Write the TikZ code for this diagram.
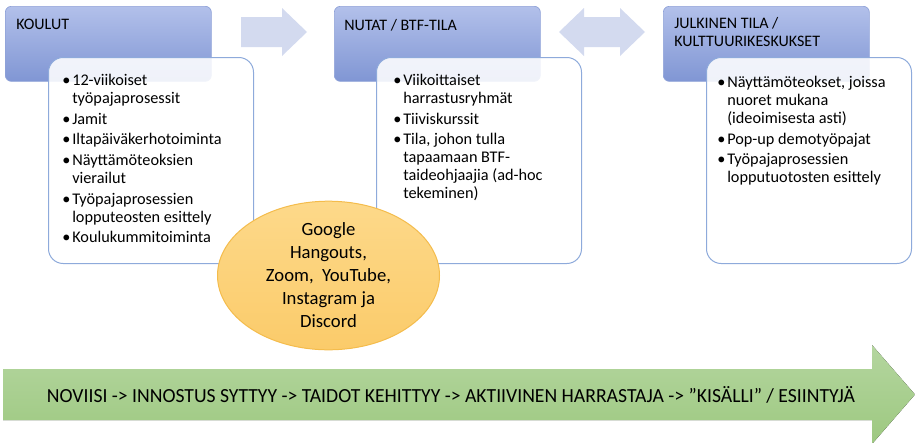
\documentclass[tikz,border=0pt]{standalone}
\usepackage{fontspec}
\usepackage{graphicx}
\setmainfont{Carlito}
\usetikzlibrary{positioning,shapes.geometric}
\definecolor{headtop}{HTML}{B2C0EA}
\definecolor{headbot}{HTML}{8096D4}
\definecolor{headline}{HTML}{8FA2D8}
\definecolor{boxline}{HTML}{8EAADB}
\definecolor{arrowfill}{HTML}{D3DAEF}
\definecolor{ovaltop}{HTML}{FDD98A}
\definecolor{ovalbot}{HTML}{FBCB6A}
\definecolor{ovalline}{HTML}{F4BC4C}
\definecolor{greentop}{HTML}{B4D69F}
\definecolor{greenbot}{HTML}{9DC880}
\newcommand{\bul}{\makebox[7.5pt][l]{\textbullet}}
\newcommand{\ind}{\hspace*{7.5pt}}

\begin{document}
\begin{tikzpicture}[x=0.75pt,y=-0.75pt,
  head/.style={rectangle,rounded corners=4.5pt,draw=headline,line width=0.5pt,
    top color=headtop,bottom color=headbot,minimum width=154.5pt,
    minimum height=56.25pt,anchor=north west,inner sep=0pt},
  itembox/.style={rectangle,rounded corners=11pt,draw=boxline,line width=0.75pt,
    fill=white,fill opacity=0.88,minimum width=153.75pt,minimum height=154.5pt,
    anchor=north west,inner sep=0pt},
  headtext/.style={anchor=north west,inner sep=0pt,align=left,
    font=\fontsize{12}{13.5}\selectfont},
  items/.style={anchor=north west,inner sep=0pt,align=left,
    font=\fontsize{12.2}{13.5}\selectfont},
  blockarrow/.style={fill=arrowfill}]

\useasboundingbox (0,0) rectangle (915,443);

% place boxes
\foreach \n/\hx/\bx in {1/5/48, 2/334/376, 3/663/706}{
  \node[head]    (h\n) at (\hx,6)  {};
  \node[itembox] (b\n) at (\bx,57) {};
}

\node[headtext] (t1) at (16,19) {KOULUT};
\node[headtext] (t2) at (344,19) {NUTAT / BTF-TILA};
\node[headtext] (t3) at (674,17) {JULKINEN TILA /\\KULTTUURIKESKUKSET};

\node[items] (i1) at (62,74) {%
  \bul 12-viikoiset\\ \ind työpajaprosessit\\[2pt]
  \bul Jamit\\[2pt]
  \bul Iltapäiväkerhotoiminta\\[2pt]
  \bul Näyttämöteoksien\\ \ind vierailut\\[2pt]
  \bul Työpajaprosessien\\ \ind lopputeosten esittely\\[2pt]
  \bul Koulukummitoiminta};

\node[items] (i2) at (393,74) {%
  \bul Viikoittaiset\\ \ind harrastusryhmät\\[2pt]
  \bul Tiiviskurssit\\[2pt]
  \bul Tila, johon tulla\\ \ind tapaamaan BTF-\\ \ind taideohjaajia (ad-hoc\\ \ind tekeminen)};

\node[items] (i3) at (717,76) {%
  \bul Näyttämöteokset, joissa\\ \ind nuoret mukana\\ \ind (ideoimisesta asti)\\[2pt]
  \bul Pop-up demotyöpajat\\[2pt]
  \bul Työpajaprosessien\\ \ind lopputuotosten esittely};

% block arrows between the columns
\fill[blockarrow] (241,17) -- (282,17) -- (282,8) -- (307,32) -- (282,56)
  -- (282,47) -- (241,47) -- cycle;
\fill[blockarrow] (559,32) -- (584,8) -- (584,17) -- (620,17) -- (620,8)
  -- (645,32) -- (620,56) -- (620,47) -- (584,47) -- (584,56) -- cycle;

\node[ellipse,draw=ovalline,line width=0.75pt,top color=ovaltop,bottom color=ovalbot,
  minimum width=166.5pt,minimum height=100.5pt,inner sep=0pt,align=center,
  font=\fontsize{14}{17.25}\selectfont] (media) at (328.5,275.5)
  {Google\\Hangouts,\\Zoom,\ \ YouTube,\\Instagram ja\\Discord};

% progress arrow
\fill[top color=greentop,bottom color=greenbot] (3,369) -- (872,369) -- (872,345)
  -- (915,394.5) -- (872,444) -- (872,420) -- (3,420) -- cycle;
\node[inner sep=0pt,font=\fontsize{15}{18}\selectfont] (flow) at (451,395)
  {\resizebox{606pt}{\height}{NOVIISI -> INNOSTUS SYTTYY -> TAIDOT KEHITTYY -> AKTIIVINEN HARRASTAJA -> ”KISÄLLI” / ESIINTYJÄ}};

\end{tikzpicture}
\end{document}
